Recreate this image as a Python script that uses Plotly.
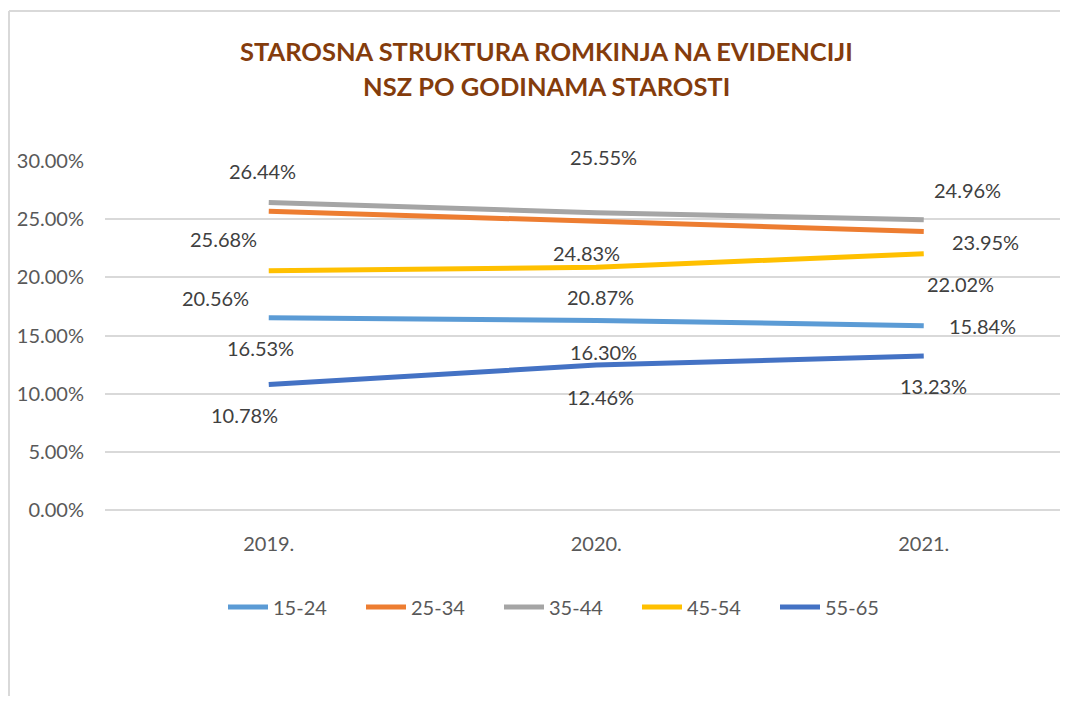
import plotly.graph_objects as go

years = ["2019.", "2020.", "2021."]
series_names = ["15-24", "25-34", "35-44", "45-54", "55-65"]
v_15_24 = [0.1653, 0.1630, 0.1584]
v_25_34 = [0.2568, 0.2483, 0.2395]
v_35_44 = [0.2644, 0.2555, 0.2496]
v_45_54 = [0.2056, 0.2087, 0.2202]
v_55_65 = [0.1078, 0.1246, 0.1323]
series_values = [v_15_24, v_25_34, v_35_44, v_45_54, v_55_65]
colors = ["#5B9BD5", "#ED7D31", "#A5A5A5", "#FFC000", "#4472C4"]

# label offsets (pixels) per series per point
label_shift = {
    "15-24": [(-8, -30), (7, -32), (59, 0)],
    "25-34": [(-45, -28), (-10, -32), (62, -11)],
    "35-44": [(-6, 31), (7, 56), (44, 30)],
    "45-54": [(-53, -27), (4, -30), (37, -30)],
    "55-65": [(-24, -30), (4, -32), (10, -30)],
}

FONT = "Lato"
OFF = 8  # page body margin
W, H = 1068 - 2 * OFF, 704 - 2 * OFF
L = 105 - OFF
T = 161 - OFF
B = H - (510 - OFF)
CAT_W = 327.5  # pixels per category
plot_w = W - L
plot_h = H - T - B

def px_x(p):  # window px -> paper
    return (p - OFF - L) / plot_w

def px_y(p):
    return (H - B - (p - OFF)) / plot_h

fig = go.Figure()
for name, vals, col in zip(series_names, series_values, colors):
    fig.add_trace(go.Scatter(
        x=years, y=vals, name=name, mode="lines",
        line=dict(color=col, width=5),
        hoverinfo="skip",
    ))

annotations = []
for name, vals in zip(series_names, series_values):
    for i, v in enumerate(vals):
        dx, dy = label_shift[name][i]
        annotations.append(dict(
            x=i, y=v, xref="x", yref="y", text=f"{v*100:.2f}%",
            showarrow=False, xshift=dx, yshift=dy,
            font=dict(family=FONT, size=20, color="#404040"),
        ))

title_lines = ["STAROSNA STRUKTURA ROMKINJA NA EVIDENCIJI", "NSZ PO GODINAMA STAROSTI"]
for line, py in zip(title_lines, [51, 86]):
    annotations.append(dict(
        x=px_x(546), y=px_y(py), xref="paper", yref="paper", text=f"<b>{line}</b>",
        showarrow=False, xanchor="center", yanchor="middle",
        font=dict(family=FONT, size=25.5, color="#843C0C"),
    ))

border = dict(color="#D9D9D9", width=2)
fig.update_layout(
    width=W, height=H,
    margin=dict(l=L, r=0, t=T, b=B, pad=0),
    paper_bgcolor="white", plot_bgcolor="white",
    showlegend=True,
    legend=dict(
        orientation="h", x=px_x(223), xanchor="left", y=px_y(607), yanchor="middle",
        font=dict(family=FONT, size=20, color="#595959"),
        entrywidth=83, entrywidthmode="pixels", itemwidth=40,
        bgcolor="rgba(0,0,0,0)",
    ),
    annotations=annotations,
    shapes=[
        dict(type="line", xref="paper", yref="paper",
             x0=px_x(9), x1=px_x(1100), y0=px_y(11), y1=px_y(11),
             line=border, layer="below"),
        dict(type="line", xref="paper", yref="paper",
             x0=px_x(9), x1=px_x(9), y0=px_y(11), y1=px_y(740),
             line=border, layer="below"),
    ],
)

fig.update_xaxes(
    type="category", categoryorder="array", categoryarray=years,
    range=[-0.5, -0.5 + plot_w / CAT_W],
    showgrid=False, zeroline=False, showline=False, ticks="",
    tickfont=dict(family=FONT, size=20, color="#595959"),
    ticklabelstandoff=20,
)
fig.update_yaxes(
    range=[0, 0.30], dtick=0.05, tick0=0, tickformat=".2%",
    showgrid=True, gridcolor="#D9D9D9", gridwidth=1.5,
    zeroline=True, zerolinecolor="#D9D9D9", zerolinewidth=1.5,
    showline=False, ticks="",
    tickfont=dict(family=FONT, size=20, color="#595959"),
    ticklabelstandoff=20,
)

fig.write_html("out.html")
